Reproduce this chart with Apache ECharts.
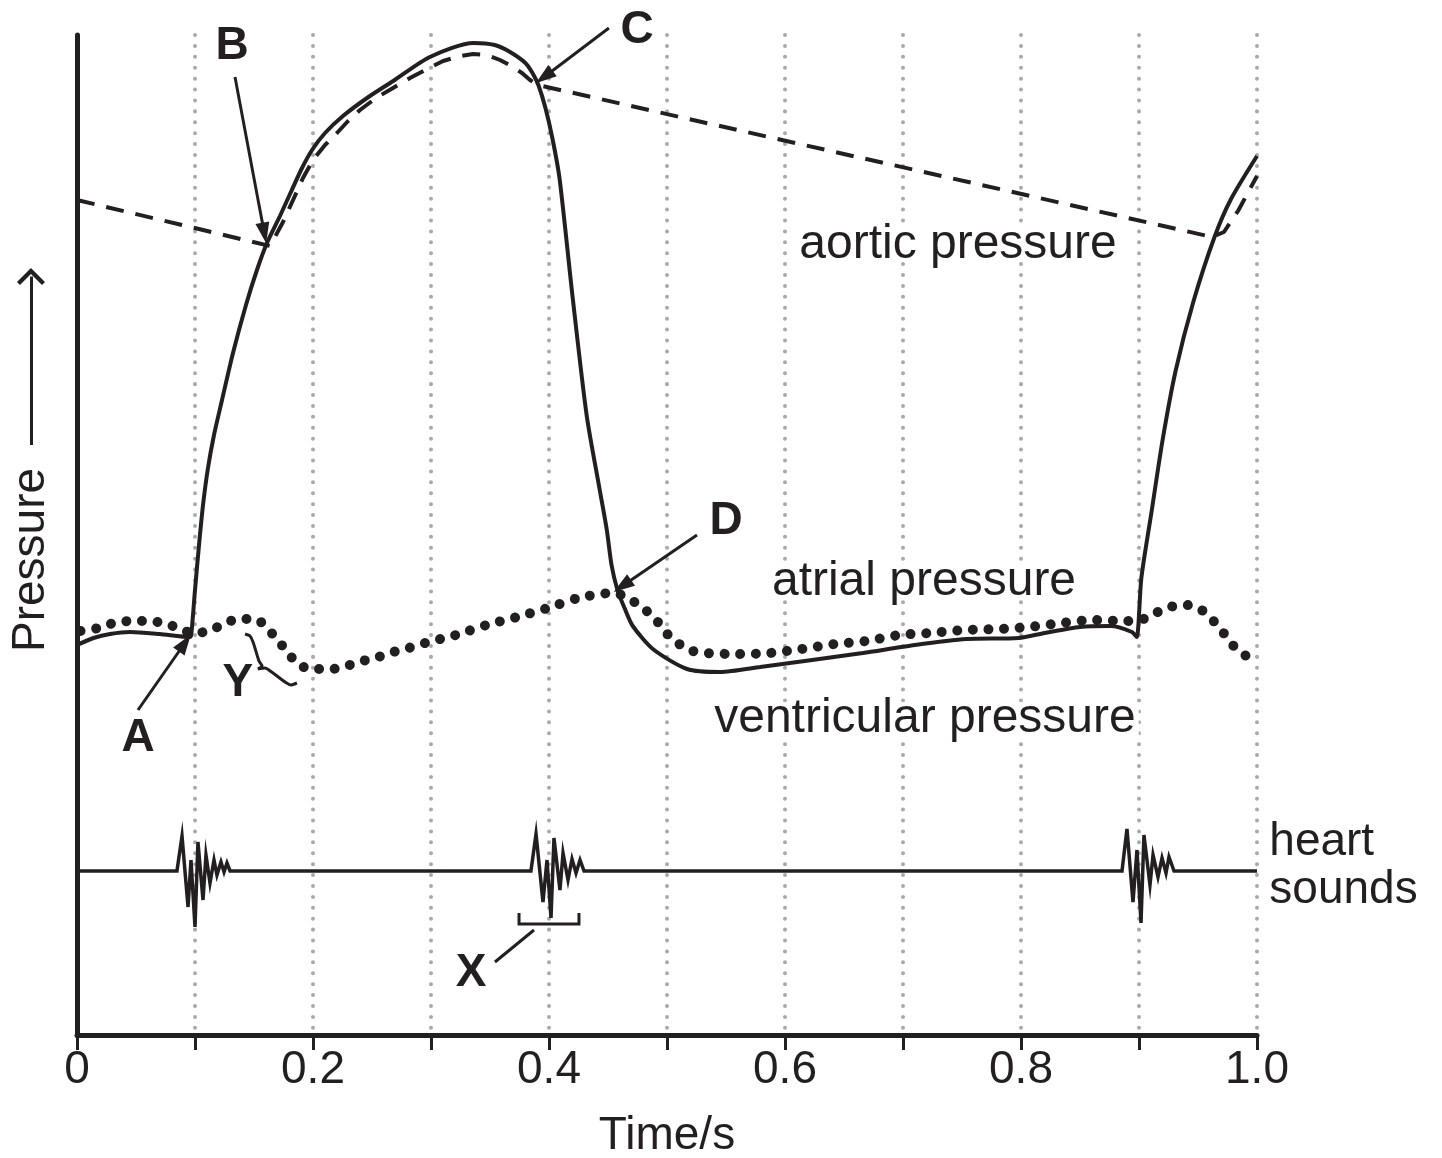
<!DOCTYPE html>
<html>
<head>
<meta charset="utf-8">
<script src="https://cdn.jsdelivr.net/npm/echarts@6/dist/echarts.min.js"></script>
<style>
html,body{margin:0;padding:0;background:#ffffff;}
#chart{width:1442px;height:1158px;}
</style>
</head>
<body>
<div id="chart"></div>
<script>
// ---------- data (time in s, pressure in arbitrary units 0-100) ----------
const xTickLabels = ['0', '', '0.2', '', '0.4', '', '0.6', '', '0.8', '', '1.0'];

const ventricularPressure = [
  [0.000, 39.0], [0.014, 39.7], [0.028, 40.1], [0.045, 40.3], [0.070, 40.1], [0.096, 39.8],
  [0.097, 40.2], [0.100, 44.5], [0.1034, 49.0], [0.1068, 53.0], [0.111, 56.7], [0.1161, 60.0],
  [0.1229, 63.5], [0.1322, 68.2], [0.1432, 73.0], [0.1525, 76.5], [0.161, 79.2], [0.172, 81.9],
  [0.1805, 84.1], [0.1907, 86.7], [0.1992, 88.5], [0.2102, 90.2], [0.2254, 91.9], [0.247, 93.8],
  [0.268, 95.4], [0.299, 97.8], [0.336, 99.2], [0.354, 99.0], [0.367, 98.3], [0.380, 97.2],
  [0.386, 96.2], [0.391, 95.0], [0.397, 92.7], [0.403, 89.6], [0.409, 85.6], [0.420, 73.8],
  [0.432, 61.9], [0.443, 54.5], [0.449, 50.5], [0.453, 47.0], [0.458, 44.5], [0.464, 42.7],
  [0.471, 40.9], [0.488, 38.6], [0.517, 36.6], [0.545, 36.3], [0.579, 36.8], [0.623, 37.5],
  [0.666, 38.2], [0.710, 39.0], [0.754, 39.6], [0.798, 39.7], [0.820, 40.2], [0.850, 40.8],
  [0.876, 40.9], [0.894, 40.3], [0.898, 39.8], [0.902, 45.7], [0.911, 52.6], [0.920, 59.5],
  [0.931, 66.4], [0.946, 73.3], [0.964, 79.8], [0.978, 83.6], [1.000, 87.9]
];

const aorticPressure = [
  [0.0000, 83.5], [0.1636, 78.9], [0.1746, 81.3], [0.1831, 83.5], [0.1915, 85.7], [0.2000, 87.5],
  [0.2102, 89.0], [0.2203, 90.2], [0.2297, 91.4], [0.2398, 92.5], [0.2534, 93.7], [0.2678, 94.7],
  [0.2822, 95.7], [0.2966, 96.6], [0.3102, 97.4], [0.3246, 97.9], [0.3356, 98.1], [0.3475, 98.0],
  [0.3585, 97.5], [0.3695, 96.8], [0.3771, 96.2], [0.3839, 95.5], [0.3907, 95.0],
  [0.9619, 79.8], [0.9720, 80.3], [0.9839, 82.4], [1.0000, 85.9]
];

const atrialPressure = [
  [0.003, 40.4], [0.018, 40.7], [0.031, 41.2], [0.045, 41.4], [0.059, 41.4], [0.073, 41.2],
  [0.086, 40.7], [0.098, 40.2], [0.112, 40.4], [0.124, 41.1], [0.137, 41.6], [0.151, 41.6],
  [0.161, 40.7], [0.170, 39.5], [0.179, 38.2], [0.188, 37.0], [0.202, 36.6], [0.215, 36.6],
  [0.228, 36.9], [0.242, 37.4], [0.255, 37.8], [0.268, 38.3], [0.281, 38.7], [0.295, 39.2],
  [0.308, 39.6], [0.321, 40.0], [0.347, 41.0], [0.373, 41.8], [0.399, 42.7], [0.425, 43.7],
  [0.454, 44.2], [0.467, 43.7], [0.478, 42.8], [0.489, 41.8], [0.497, 40.5], [0.508, 39.3],
  [0.519, 38.5], [0.533, 38.2], [0.559, 38.1], [0.587, 38.2], [0.614, 38.6], [0.642, 39.1],
  [0.669, 39.4], [0.697, 40.0], [0.723, 40.2], [0.752, 40.5], [0.780, 40.6], [0.806, 40.8],
  [0.835, 41.2], [0.861, 41.5], [0.887, 41.4], [0.901, 41.5], [0.914, 42.2], [0.926, 42.8],
  [0.940, 43.0], [0.953, 42.5], [0.964, 41.3], [0.973, 40.0], [0.981, 38.8], [0.992, 37.8]
];

const heartSounds = [
  [0.000, 16.4],
  [0.0847, 16.4], [0.0890, 19.9], [0.0941, 12.8], [0.0966, 17.5], [0.1000, 10.8], [0.1025, 19.3],
  [0.1068, 13.5], [0.1093, 18.0], [0.1127, 15.2], [0.1161, 17.5], [0.1186, 16.0], [0.1220, 17.3],
  [0.1246, 16.3], [0.1271, 17.2], [0.1297, 16.4],
  [0.3847, 16.4], [0.3890, 20.1], [0.3949, 13.3], [0.3983, 17.5], [0.4017, 11.7], [0.4042, 19.7],
  [0.4093, 14.5], [0.4119, 18.2], [0.4161, 15.5], [0.4195, 17.6], [0.4229, 16.2], [0.4263, 17.5],
  [0.4297, 16.4],
  [0.8856, 16.4], [0.8898, 20.6], [0.8949, 13.3], [0.8983, 18.5], [0.9017, 11.2], [0.9042, 20.0],
  [0.9093, 15.0], [0.9119, 18.0], [0.9161, 15.8], [0.9195, 17.7], [0.9229, 16.2], [0.9254, 17.8],
  [0.9297, 16.4],
  [1.000, 16.4]
];

// ---------- annotation geometry (same data coordinates, drawn on a full-page overlay grid) ----------
const bracketX = [[0.3746, 12.2], [0.3746, 11.1], [0.4254, 11.1], [0.4254, 12.2]];
const braceY = [[0.1424, 40.1], [0.1466, 39.9], [0.1492, 39.3], [0.1542, 37.4], [0.1568, 36.9],
  [0.1534, 36.6], [0.1593, 36.7], [0.1661, 36.2], [0.1814, 35.0], [0.1864, 35.2]];

const arrowLines = [
  // [from, to, hasHead]
  [[0.0517, 32.5], [0.0914, 39.2], true],   // A
  [[0.1339, 95.8], [0.1587, 80.2], true],   // B
  [[0.4508, 100.7], [0.3959, 95.8], true],  // C
  [[0.5254, 50.0], [0.4622, 44.9], true],   // D
  [[0.3873, 10.5], [0.3542, 7.3], false]    // X
];

const letterLabels = [
  ['A', [0.0517, 29.7]], ['B', [0.1314, 98.9]], ['C', [0.4746, 100.5]],
  ['D', [0.5500, 51.4]], ['X', [0.3339, 6.2]], ['Y', [0.1364, 35.2]]
];

const curveLabels = [
  ['aortic pressure', [0.7466, 79.0]],
  ['atrial pressure', [0.7178, 45.3]],
  ['ventricular pressure', [0.7186, 31.6]]
];

const INK = '#231f20';
const FONT = '"Liberation Sans", Arial, Helvetica, sans-serif';

// overlay axis range = whole page expressed in the plot's data units
const OX_MIN = -77 / 1180, OX_MAX = 1365 / 1180;
const OY_MIN = -12.3, OY_MAX = 103.5;

const markLineData = arrowLines.map(a => [
  { coord: a[0], symbol: 'none' },
  { coord: a[1], symbol: a[2] ? 'triangle' : 'none', symbolSize: [14, 21] }
]);
markLineData.push([
  { coord: [-0.039, 59.0], symbol: 'none' },
  { coord: [-0.039, 75.85], symbol: 'path://M14,0 L28,14 L25,17 L14,6 L3,17 L0,14 Z', symbolSize: [28, 17] }
]);

const markPointData = [];
letterLabels.forEach(l => markPointData.push({
  coord: l[1], value: 0,
  label: { formatter: l[0], fontSize: 46, fontWeight: 'bold', color: INK, fontFamily: FONT }
}));
curveLabels.forEach(l => markPointData.push({
  coord: l[1], value: 0,
  label: { formatter: l[0], fontSize: 48, lineHeight: 34, color: INK, fontFamily: FONT,
           backgroundColor: '#ffffff', padding: [0, 3] }
}));
markPointData.push({
  coord: [1.010, 16.9], value: 0,
  label: { formatter: 'heart\nsounds', position: 'right', distance: 0, align: 'left',
           fontSize: 46, lineHeight: 48, color: INK, fontFamily: FONT }
});
markPointData.push({
  coord: [-0.039, 47.5], value: 0,
  label: { formatter: 'Pressure', rotate: 90, fontSize: 46, color: INK, fontFamily: FONT }
});

const chart = echarts.init(document.getElementById('chart'), null, { renderer: 'canvas' });

chart.setOption({
  animation: false,
  backgroundColor: '#ffffff',
  grid: [
    { left: 77, right: 185, top: 35, bottom: 123, containLabel: false, outerBoundsMode: 'none' },
    { left: 0, right: 0, top: 0, bottom: 0, containLabel: false, outerBoundsMode: 'none' }
  ],
  xAxis: [{
    type: 'value', gridIndex: 0, min: 0, max: 1, interval: 0.1,
    name: 'Time/s', nameLocation: 'middle', nameGap: 78,
    nameTextStyle: { fontSize: 46, color: INK, fontFamily: FONT },
    axisLine: { show: true, onZero: false, lineStyle: { color: INK, width: 5 } },
    axisTick: { show: true, length: 15, lineStyle: { color: INK, width: 3 } },
    axisLabel: {
      show: true, margin: 12, fontSize: 46, color: INK, fontFamily: FONT,
      showMinLabel: true, showMaxLabel: true,
      formatter: v => xTickLabels[Math.round(v * 10)] || ''
    },
    splitLine: { show: true, lineStyle: { color: '#a7a9ac', width: 4, type: [0.01, 10.9], cap: 'round' } }
  }, {
    type: 'value', gridIndex: 1, min: OX_MIN, max: OX_MAX, show: false
  }],
  yAxis: [{
    type: 'value', gridIndex: 0, min: 0, max: 100,
    axisLine: { show: true, onZero: false, lineStyle: { color: INK, width: 5 } },
    axisTick: { show: false }, axisLabel: { show: false }, splitLine: { show: false }
  }, {
    type: 'value', gridIndex: 1, min: OY_MIN, max: OY_MAX, show: false
  }],
  series: [
    {
      name: 'aortic pressure', type: 'line', data: aorticPressure, smooth: false,
      symbol: 'none', z: 2, silent: true,
      lineStyle: { color: INK, width: 4, type: [18, 12] }
    },
    {
      name: 'atrial pressure', type: 'line', data: atrialPressure, smooth: 0.3,
      symbol: 'none', z: 3, silent: true,
      lineStyle: { color: INK, width: 10, type: [0.01, 15.6], cap: 'round' }
    },
    {
      name: 'ventricular pressure', type: 'line', data: ventricularPressure, smooth: 0.25,
      symbol: 'none', z: 4, silent: true,
      lineStyle: { color: INK, width: 4 }
    },
    {
      name: 'heart sounds', type: 'line', data: heartSounds, smooth: false,
      symbol: 'none', z: 4, silent: true,
      lineStyle: { color: INK, width: 3.5, join: 'miter' }
    },
    {
      name: 'X bracket', type: 'line', xAxisIndex: 1, yAxisIndex: 1, data: bracketX, smooth: false,
      symbol: 'none', z: 5, silent: true,
      lineStyle: { color: INK, width: 3, join: 'miter' },
      markLine: {
        silent: true, animation: false,
        label: { show: false },
        lineStyle: { color: INK, width: 3, type: 'solid' },
        emphasis: { disabled: true },
        data: markLineData
      },
      markPoint: {
        silent: true, animation: false,
        symbol: 'circle', symbolSize: 1,
        itemStyle: { color: 'rgba(0,0,0,0)' },
        label: { show: true, position: 'inside' },
        emphasis: { disabled: true },
        data: markPointData
      }
    },
    {
      name: 'Y brace', type: 'line', xAxisIndex: 1, yAxisIndex: 1, data: braceY, smooth: 0.2,
      symbol: 'none', z: 5, silent: true,
      lineStyle: { color: INK, width: 3 }
    }
  ]
});
</script>
</body>
</html>
